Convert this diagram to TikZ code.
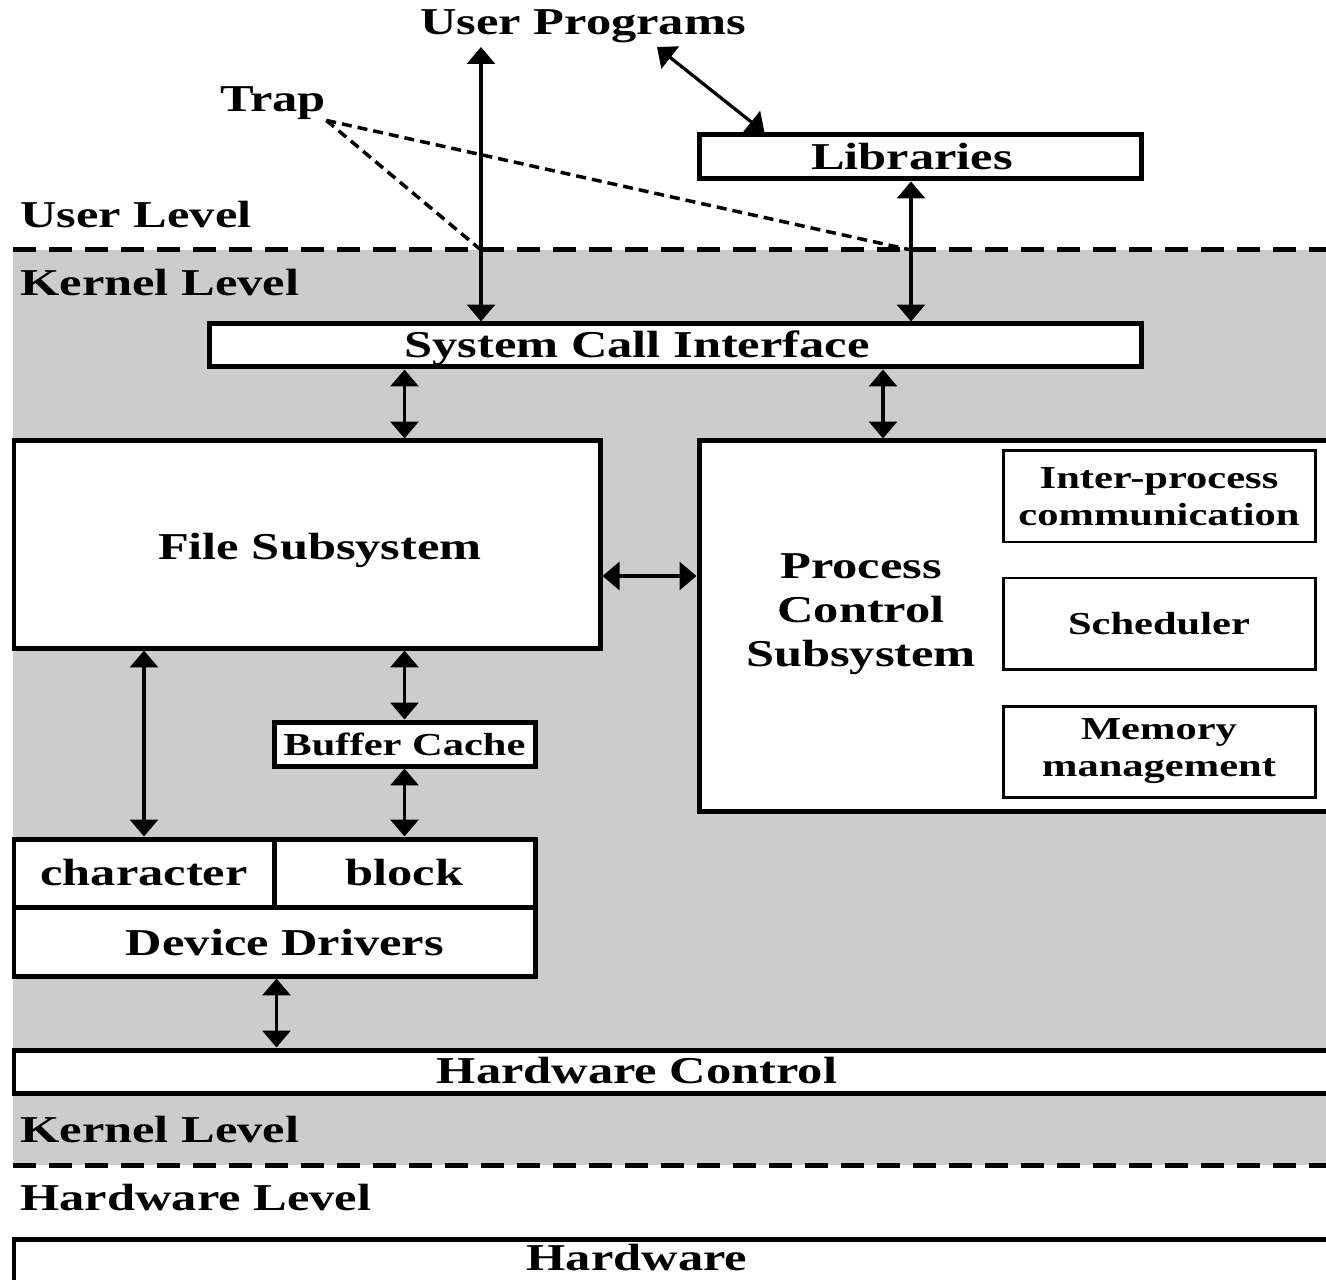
\documentclass[tikz,border=0pt]{standalone}
\usepackage{fontspec}
\setmainfont{Liberation Serif}[FakeStretch=1.33]
\usetikzlibrary{arrows.meta, fit, calc}
\definecolor{kernelgray}{HTML}{CCCCCC}
\newcommand{\largebf}{\bfseries\fontsize{21.6pt}{25pt}\selectfont}
\newcommand{\smallbf}{\bfseries\fontsize{18.2pt}{21pt}\selectfont}
\tikzset{
  >={Triangle[length=3.4mm, width=5.6mm]},
  blk/.style={draw, line width=1mm, fill=white, inner sep=0pt},
  subblk/.style={draw, line width=0.6mm, fill=white, inner sep=0pt},
  lbl/.style={inner sep=0pt, align=center, font=\largebf},
  sublbl/.style={inner sep=0pt, align=center, font=\smallbf},
  lvl/.style={anchor=base west, inner sep=0pt, font=\largebf},
  lnk/.style={<->, line width=0.65mm},
  trapline/.style={line width=0.7mm, dash pattern=on 2mm off 1.2mm},
  levelsep/.style={line width=1mm, dash pattern=on 4.6mm off 2.6mm},
}

\begin{document}
\begin{tikzpicture}[x=0.02cm, y=-0.02cm]
  \clip (0,0) rectangle (1326,1280);
  \fill[kernelgray] (13,250) rectangle (1340,1165);
  \draw[levelsep] (13,250) -- (1340,250);
  \draw[levelsep] (13,1165) -- (1340,1165);

  \node[lvl] (ulevel) at (20,228) {User Level};
  \node[lvl] (klevel) at (20,296) {Kernel Level};
  \node[lvl] (klevel2) at (20,1142) {Kernel Level};
  \node[lvl] (hlevel) at (20,1210) {Hardware Level};

  \node[lbl, anchor=base] (uprog) at (583,35) {User Programs};
  \node[lvl] (trap) at (220,112) {Trap};

  \node[blk, fit={(699,135) (1141,179)}, label={[lbl, xshift=-0.16cm]center:Libraries}] (lib) {};
  \node[blk, fit={(209,324) (1141,367)}] (sci) {};
  \node[lbl] (sci-t) at (637,348) {System Call Interface};

  \node[blk, fit={(14,441) (600,648)}] (fs) {};
  \node[lbl] (fs-t) at (320,550) {File Subsystem};

  \node[blk, fit={(699,441) (1340,811)}] (pcs) {};
  \node[lbl] (pcs-t) at (861,614) {Process\\Control\\Subsystem};
  \node[subblk, fit={(1003,451) (1315,542)}, label={[sublbl]center:Inter-process\\communication}] (ipc) {};
  \node[subblk, fit={(1003,578) (1315,669)}, label={[sublbl]center:Scheduler}] (sched) {};
  \node[subblk, fit={(1003,706) (1315,797)}, label={[sublbl]center:Memory\\management}] (mem) {};

  \node[blk, fit={(274,722) (535,766)}, label={[sublbl]center:Buffer Cache}] (buf) {};

  \node[blk, fit={(14,839) (274,907)}, label={[lbl]center:character}] (chr) {};
  \node[blk, fit={(274,839) (535,907)}, label={[lbl]center:block}] (blkd) {};
  \node[blk, fit={(14,907) (535,976)}] (ddrv) {};
  \node[lbl] (ddrv-t) at (285,943) {Device Drivers};

  \node[blk, fit={(14,1050) (1340,1093)}] (hwc) {};
  \node[lbl] (hwc-t) at (637,1071) {Hardware Control};
  \node[blk, fit={(14,1239) (1340,1320)}] (hw) {};
  \node[lbl, anchor=base] (hw-t) at (637,1270) {Hardware};

  \coordinate (ptop) at (481,47);
  \coordinate (plib) at (657,47);
  \coordinate (c911) at (911,0);
  \coordinate (c883) at (883,0);
  \coordinate (c576) at (0,576);
  \coordinate (t1) at (481,250);
  \coordinate (t2) at (911,250);

  \draw[lnk] (ptop) -- (ptop |- sci.north);
  \draw[lnk] (plib) -- ($(lib.north west)+(68,0)$);
  \draw[lnk] (lib.south -| c911) -- (sci.north -| c911);
  \draw[lnk] (sci.south -| buf) -- (fs.north -| buf);
  \draw[lnk] (sci.south -| c883) -- (pcs.north -| c883);
  \draw[lnk] (fs.east |- c576) -- (pcs.west |- c576);
  \draw[lnk] (fs.south -| chr) -- (chr.north);
  \draw[lnk] (fs.south -| buf) -- (buf.north);
  \draw[lnk] (buf.south) -- (blkd.north);
  \draw[lnk] (ddrv.south -| chr.east) -- (hwc.north -| chr.east);

  \draw[trapline] (trap.south east) -- (t1);
  \draw[trapline] (trap.south east) -- (t2);
\end{tikzpicture}
\end{document}
